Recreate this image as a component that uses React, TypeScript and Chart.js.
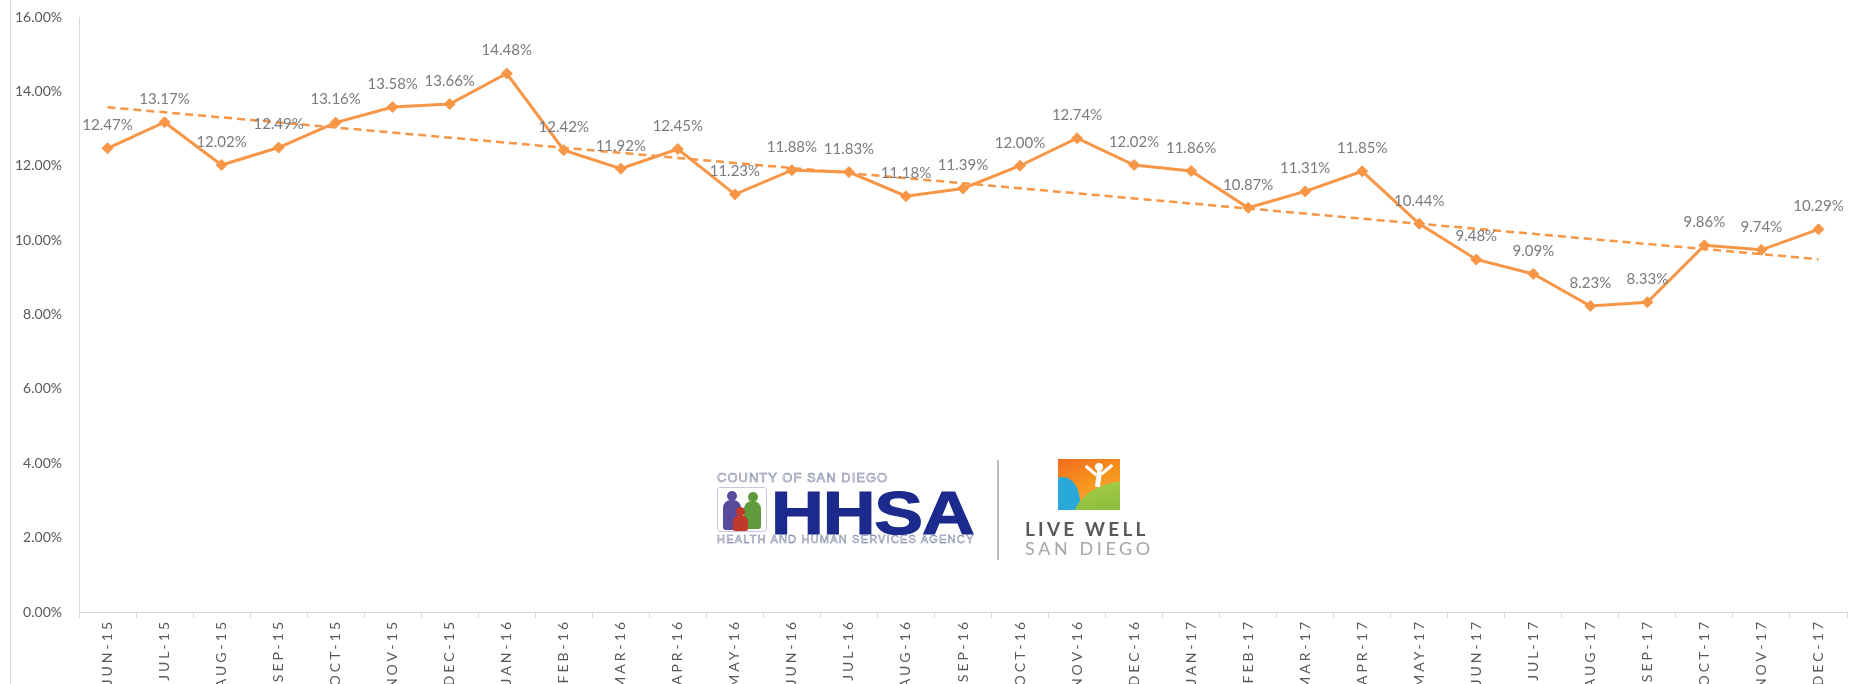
import React, { useEffect, useRef } from 'react';
import { Chart, registerables } from 'chart.js';

Chart.register(...registerables);

const categories = [
  'JUN-15', 'JUL-15', 'AUG-15', 'SEP-15', 'OCT-15', 'NOV-15', 'DEC-15',
  'JAN-16', 'FEB-16', 'MAR-16', 'APR-16', 'MAY-16', 'JUN-16', 'JUL-16', 'AUG-16', 'SEP-16', 'OCT-16', 'NOV-16', 'DEC-16',
  'JAN-17', 'FEB-17', 'MAR-17', 'APR-17', 'MAY-17', 'JUN-17', 'JUL-17', 'AUG-17', 'SEP-17', 'OCT-17', 'NOV-17', 'DEC-17',
];

const rates = [
  12.47, 13.17, 12.02, 12.49, 13.16, 13.58, 13.66,
  14.48, 12.42, 11.92, 12.45, 11.23, 11.88, 11.83, 11.18, 11.39, 12.0, 12.74, 12.02,
  11.86, 10.87, 11.31, 11.85, 10.44, 9.48, 9.09, 8.23, 8.33, 9.86, 9.74, 10.29,
];

const yMin = 0;
const yMax = 16;
const yStep = 2;

// Linear trendline (least squares), as the spreadsheet's trendline does
function linearTrend(values: number[]): number[] {
  const n = values.length;
  let sx = 0, sy = 0, sxy = 0, sxx = 0;
  values.forEach((v, i) => { sx += i; sy += v; sxy += i * v; sxx += i * i; });
  const slope = (n * sxy - sx * sy) / (n * sxx - sx * sx);
  const intercept = (sy - slope * sx) / n;
  return values.map((_, i) => intercept + slope * i);
}

const ORANGE = '#F79646';

const valueLabelPlugin = {
  id: 'valueLabels',
  afterDatasetsDraw(chart: any) {
    const ctx = chart.ctx;
    const meta = chart.getDatasetMeta(0);
    ctx.save();
    ctx.font = '15px Lato';
    ctx.fillStyle = '#787b80';
    ctx.textAlign = 'center';
    ctx.textBaseline = 'middle';
    meta.data.forEach((el: any, i: number) => {
      ctx.fillText(rates[i].toFixed(2) + '%', el.x, el.y - 23);
    });
    ctx.restore();
  },
};

const xLabelPlugin = {
  id: 'xLabels',
  afterDraw(chart: any) {
    const ctx = chart.ctx;
    const xs = chart.scales.x;
    const top = xs.top + 10;
    ctx.save();
    ctx.font = '14px Lato';
    ctx.fillStyle = '#595959';
    (ctx as any).letterSpacing = '3px';
    categories.forEach((c, i) => {
      const x = xs.getPixelForValue(i);
      ctx.save();
      ctx.translate(x, top);
      ctx.rotate(-Math.PI / 2);
      ctx.textAlign = 'right';
      ctx.textBaseline = 'middle';
      ctx.fillText(c, 3, 0);
      ctx.restore();
    });
    ctx.restore();
  },
};

function Logo() {
  const abs = (s: any) => ({ position: 'absolute' as const, ...s });
  return (
    <>
      {/* COUNTY OF SAN DIEGO */}
      <div style={abs({ left: 717, top: 471, fontFamily: 'Liberation Sans', fontSize: 13, color: '#f4f4f8', WebkitTextStroke: '0.5px #6a6f98', letterSpacing: 1.0, lineHeight: '14px', whiteSpace: 'nowrap' })}>
        COUNTY OF SAN DIEGO
      </div>
      {/* figures icon */}
      <div style={abs({ left: 717, top: 487, width: 48, height: 43, border: '1px solid #c5c8dc', borderRadius: 3, overflow: 'hidden', background: '#fff' })}>
        <div style={abs({ left: 9, top: 3, width: 10, height: 10, borderRadius: '50%', background: '#5a4a9c' })} />
        <div style={abs({ left: 5, top: 12, width: 18, height: 30, borderRadius: '8px 8px 3px 3px', background: '#5a4a9c' })} />
        <div style={abs({ left: 30, top: 4, width: 10, height: 10, borderRadius: '50%', background: '#5f9a3c' })} />
        <div style={abs({ left: 26, top: 13, width: 17, height: 28, borderRadius: '8px 8px 3px 3px', background: '#5f9a3c' })} />
        <div style={abs({ left: 18, top: 19, width: 9, height: 9, borderRadius: '50%', background: '#c0392b' })} />
        <div style={abs({ left: 15, top: 27, width: 15, height: 16, borderRadius: '7px 7px 2px 2px', background: '#c0392b' })} />
      </div>
      {/* HHSA */}
      <div style={abs({ left: 771, top: 483, fontFamily: 'Liberation Sans', fontWeight: 900, fontSize: 61, lineHeight: '61px', color: '#1b2a8c', WebkitTextStroke: '1.2px #1b2a8c', transform: 'scaleX(1.2)', transformOrigin: 'left top', letterSpacing: -1, whiteSpace: 'nowrap' })}>
        HHSA
      </div>
      {/* HEALTH AND HUMAN SERVICES AGENCY */}
      <div style={abs({ left: 717, top: 533, fontFamily: 'Liberation Sans', fontSize: 11, color: '#f4f4f8', WebkitTextStroke: '0.45px #6a6f98', letterSpacing: 1.2, lineHeight: '12px', whiteSpace: 'nowrap' })}>
        HEALTH AND HUMAN SERVICES AGENCY
      </div>
      {/* divider */}
      <div style={abs({ left: 997, top: 460, width: 2, height: 100, background: '#bdbdbd' })} />
      {/* Live Well icon */}
      <div style={abs({ left: 1058, top: 459, width: 62, height: 51, overflow: 'hidden', background: 'linear-gradient(160deg, #f26a21 0%, #f7941d 45%, #fbb040 100%)' })}>
        <div style={abs({ left: -12, top: 18, width: 34, height: 50, borderRadius: '50% 50% 0 0', background: '#2aa9d8' })} />
        <div style={abs({ left: 14, top: 22, width: 80, height: 60, borderRadius: '70% 0 0 0', background: 'linear-gradient(170deg, #a8cf45, #6fa83a)' })} />
        <div style={abs({ left: 37, top: 4, width: 8, height: 8, borderRadius: '50%', background: '#fff' })} />
        <div style={abs({ left: 38, top: 12, width: 5, height: 16, background: '#fff', transform: 'rotate(8deg)' })} />
        <div style={abs({ left: 26, top: 10, width: 14, height: 3, background: '#fff', transform: 'rotate(40deg)' })} />
        <div style={abs({ left: 42, top: 9, width: 14, height: 3, background: '#fff', transform: 'rotate(-40deg)' })} />
      </div>
      {/* LIVE WELL */}
      <div style={abs({ left: 1025, top: 518, fontFamily: 'Lato', fontWeight: 700, fontSize: 19, color: '#58595b', letterSpacing: 3.2, lineHeight: '22px', whiteSpace: 'nowrap' })}>
        LIVE WELL
      </div>
      {/* SAN DIEGO */}
      <div style={abs({ left: 1025, top: 538, fontFamily: 'Lato', fontWeight: 400, fontSize: 18, color: '#a4a6a8', letterSpacing: 3.6, lineHeight: '20px', whiteSpace: 'nowrap' })}>
        SAN DIEGO
      </div>
    </>
  );
}

export default function App() {
  const canvasRef = useRef<HTMLCanvasElement | null>(null);

  useEffect(() => {
    document.body.style.margin = '0';
    const canvas = canvasRef.current;
    if (!canvas) return;
    const chart = new Chart(canvas, {
      type: 'line',
      data: {
        labels: categories,
        datasets: [
          {
            label: 'Rate',
            data: rates,
            borderColor: ORANGE,
            backgroundColor: ORANGE,
            borderWidth: 3,
            pointStyle: 'rectRot',
            pointRadius: 5.5,
            pointHoverRadius: 5.5,
            pointBackgroundColor: ORANGE,
            pointBorderColor: ORANGE,
            pointBorderWidth: 1,
            tension: 0,
            clip: false,
          },
          {
            label: 'Trend',
            data: linearTrend(rates),
            borderColor: ORANGE,
            borderWidth: 2.5,
            borderDash: [8, 5],
            pointRadius: 0,
            pointHoverRadius: 0,
            tension: 0,
            clip: false,
          },
        ],
      },
      options: {
        animation: false,
        responsive: false,
        devicePixelRatio: 1,
        layout: { autoPadding: false, padding: { left: 0, right: 13, top: 17, bottom: 0 } },
        plugins: {
          legend: { display: false },
          tooltip: { enabled: false },
        },
        scales: {
          x: {
            offset: true,
            grid: {
              offset: true,
              drawOnChartArea: false,
              drawTicks: true,
              tickLength: 6,
              color: '#d9d9d9',
            },
            border: { display: true, color: '#d9d9d9', width: 1 },
            ticks: { display: false },
            afterFit: (scale: any) => { scale.height = 72; },
          },
          y: {
            min: yMin,
            max: yMax,
            grid: { display: true, drawOnChartArea: false, drawTicks: false, color: '#d9d9d9' },
            border: { display: true, color: '#d9d9d9', width: 1 },
            ticks: {
              stepSize: yStep,
              padding: 17,
              color: '#595959',
              font: { family: 'Lato', size: 14 },
              callback: (v: any) => Number(v).toFixed(2) + '%',
            },
            afterFit: (scale: any) => {
              scale.width = 79;
              scale.paddingTop = 0;
              scale.paddingBottom = 0;
            },
          },
        },
      },
      plugins: [valueLabelPlugin, xLabelPlugin],
    });
    return () => chart.destroy();
  }, []);

  return (
    <div style={{ position: 'relative', width: 1860, height: 684, overflow: 'hidden', background: '#fff' }}>
      <div style={{ position: 'absolute', left: 10, top: 0, width: 1, height: 684, background: '#d9d9d9' }} />
      <canvas ref={canvasRef} width={1860} height={684} style={{ position: 'absolute', left: 0, top: 0 }} />
      <Logo />
    </div>
  );
}
